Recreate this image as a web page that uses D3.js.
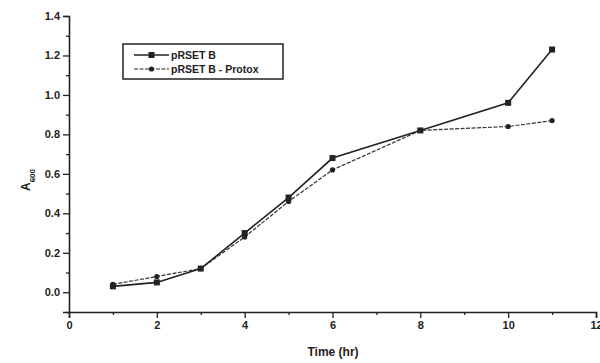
<!DOCTYPE html>
<html>
<head>
<meta charset="utf-8">
<script src="https://cdn.jsdelivr.net/npm/d3@7"></script>
<style>
body { margin: 0; background: #fff; }
svg { font-family: "Liberation Sans", Arial, sans-serif; }
.tick text { font-weight: bold; font-size: 11px; fill: #222; }
</style>
</head>
<body>
<svg id="chart" width="600" height="363"></svg>
<script>
const times = [1, 2, 3, 4, 5, 6, 8, 10, 11]
const pRSET = [0.03, 0.05, 0.12, 0.30, 0.48, 0.68, 0.82, 0.96, 1.23]
const protox = [0.04, 0.08, 0.12, 0.28, 0.46, 0.62, 0.82, 0.84, 0.87]
const xTicks = [0, 2, 4, 6, 8, 10, 12]
const yTicks = [0.0, 0.2, 0.4, 0.6, 0.8, 1.0, 1.2, 1.4]
const seriesNames = ["pRSET B", "pRSET B - Protox"]

const margin = { top: 16, left: 69, right: 4, bottom: 51 }
const svg = d3.select("#chart")
const width = 600, height = 363

const x = d3.scaleLinear().domain([0, 12]).range([margin.left, 596])
const y = d3.scaleLinear().domain([-0.1, 1.4]).range([312, 16])

// axes
const xAxis = svg.append("g")
	.attr("transform", `translate(0, ${y(-0.1)})`)
	.call(d3.axisBottom(x).tickValues(xTicks).tickFormat(d3.format("d")).tickSize(6).tickPadding(3))
xAxis.append("g")
	.call(d3.axisBottom(x).tickValues(d3.range(1, 12, 2)).tickFormat("").tickSize(3))
	.select(".domain").remove()

const yAxis = svg.append("g")
	.attr("transform", `translate(${margin.left}, 0)`)
	.call(d3.axisLeft(y).tickValues(yTicks).tickFormat(d3.format(".1f")).tickSize(6).tickPadding(3))
yAxis.append("g")
	.call(d3.axisLeft(y).tickValues(d3.range(-0.1, 1.4, 0.2)).tickFormat("").tickSize(3))
	.select(".domain").remove()

svg.selectAll(".domain").attr("stroke", "#222").attr("stroke-width", 1.6)
svg.selectAll(".tick line").attr("stroke", "#222").attr("stroke-width", 1.3)

// axis titles
svg.append("text")
	.attr("x", 333).attr("y", 356)
	.attr("text-anchor", "middle")
	.attr("font-size", 12).attr("font-weight", "bold").attr("fill", "#222")
	.text("Time (hr)")

const yTitle = svg.append("text")
	.attr("transform", "translate(30, 180) rotate(-90)")
	.attr("text-anchor", "middle")
	.attr("font-size", 12).attr("font-weight", "bold").attr("fill", "#222")
yTitle.append("tspan").text("A")
yTitle.append("tspan").attr("font-size", 8).attr("dy", 5).text("600")

// lines
const line = data => d3.line()
	.x((d, i) => x(times[i]))
	.y(d => y(d))(data)

svg.append("path")
	.attr("d", line(protox))
	.attr("fill", "none").attr("stroke", "#333").attr("stroke-width", 1.2)
	.attr("stroke-dasharray", "4,1.5")
svg.append("path")
	.attr("d", line(pRSET))
	.attr("fill", "none").attr("stroke", "#222").attr("stroke-width", 1.6)

svg.append("g").selectAll("rect")
	.data(pRSET).join("rect")
	.attr("x", (d, i) => x(times[i]) - 3)
	.attr("y", d => y(d) - 3)
	.attr("width", 6).attr("height", 6)
	.attr("fill", "#222")

svg.append("g").selectAll("circle")
	.data(protox).join("circle")
	.attr("cx", (d, i) => x(times[i]))
	.attr("cy", d => y(d))
	.attr("r", 2.6)
	.attr("fill", "#222")

// legend
const legend = svg.append("g").attr("transform", "translate(123, 44)")
legend.append("rect")
	.attr("width", 160).attr("height", 35)
	.attr("fill", "#fff").attr("stroke", "#222").attr("stroke-width", 1.5)
seriesNames.forEach((name, i) => {
	const row = legend.append("g").attr("transform", `translate(0, ${11 + i * 14})`)
	row.append("line")
		.attr("x1", 11).attr("x2", 46)
		.attr("stroke", "#222")
		.attr("stroke-width", i === 0 ? 1.6 : 1.2)
		.attr("stroke-dasharray", i === 0 ? null : "4,1.5")
	if (i === 0) {
		row.append("rect").attr("x", 25.5).attr("y", -3).attr("width", 6).attr("height", 6).attr("fill", "#222")
	} else {
		row.append("circle").attr("cx", 28.5).attr("r", 2.6).attr("fill", "#222")
	}
	row.append("text")
		.attr("x", 48).attr("y", 4)
		.attr("font-size", 10.5).attr("font-weight", "bold").attr("fill", "#222")
		.text(name)
})
</script>
</body>
</html>
